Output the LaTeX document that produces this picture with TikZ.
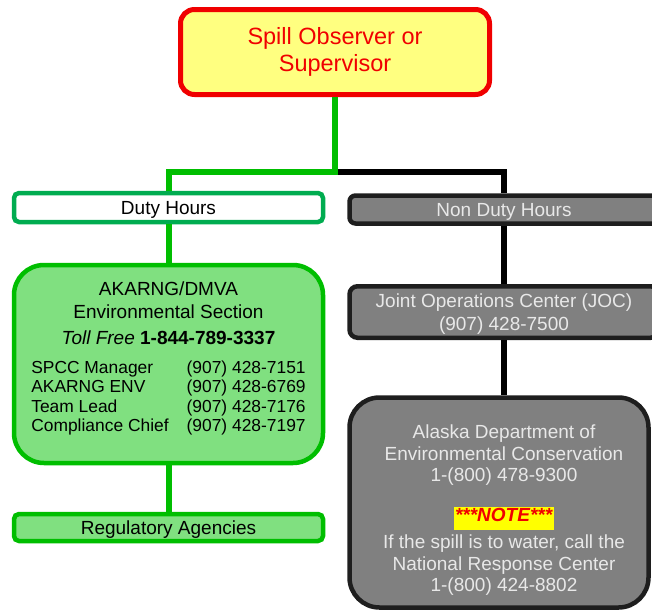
\documentclass[tikz,border=0pt]{standalone}
\usepackage{fontspec}
\setmainfont{Liberation Sans}
\usepackage{tikz}
\usetikzlibrary{positioning,
                arrows.meta}                % arrow tips

\definecolor{spillyellow}{RGB}{255,255,128}
\definecolor{spillred}{RGB}{240,0,0}
\definecolor{linegreen}{RGB}{0,190,0}
\definecolor{dutygreen}{RGB}{0,172,80}
\definecolor{boxgreen}{RGB}{128,224,128}
\definecolor{boxgray}{RGB}{128,128,128}
\definecolor{edgegray}{RGB}{30,30,30}
\definecolor{textgray}{RGB}{232,232,232}
\definecolor{noteyellow}{RGB}{255,255,0}
\setlength{\fboxsep}{1.5pt}

\begin{document}
\begin{tikzpicture}[x=1pt, y=-1pt,
        basebox/.style={rectangle, draw, inner sep=0pt, align=center, minimum width=309pt, text depth=0pt},
        spillbox/.style={basebox, text depth={}, draw=spillred, fill=spillyellow, text=spillred, line width=5pt,
                         rounded corners=14pt, font=\fontsize{23.5}{26.5}\selectfont},
        dutybox/.style={basebox, draw=dutygreen, fill=white, line width=4.5pt, rounded corners=5pt,
                        font=\fontsize{19}{22.5}\selectfont},
        greenbox/.style={basebox, draw=linegreen, fill=boxgreen, line width=4.5pt,
                         font=\fontsize{19}{22.5}\selectfont},
        graybox/.style={basebox, draw=edgegray, fill=boxgray, text=textgray, line width=4.5pt,
                        font=\fontsize{19}{22.5}\selectfont},
        boxtext/.style={anchor=north, inner sep=0pt, align=center, font=\fontsize{19}{21.5}\selectfont},
        gline/.style={draw=linegreen, line width=6pt},
        bline/.style={draw=black, line width=6pt}]
        \useasboundingbox (0,0) rectangle (652,613);
        \clip (0,0) rectangle (652,613);

        \node[spillbox, minimum height=85pt] (spill) at (335,52) {Spill Observer or\\Supervisor};
        \coordinate (fork) at (335,172);

        \node[dutybox, minimum height=29pt] (duty) at (168.5,207.5) {Duty Hours};
        \node[graybox, minimum height=28pt, rounded corners=6pt] (nondt) at (504,209.5) {Non Duty Hours};

        % duty hours side
        \node[greenbox, minimum height=198pt, rounded corners=30pt] (akarng) at (168.5,364) {};
        \node[boxtext, font=\fontsize{19}{22.5}\selectfont] (akarngtext) at (168.5,282) {AKARNG/DMVA\\Environmental Section\\[3.5pt]
            \textit{Toll Free} \textbf{1-844-789-3337}\\[6.5pt]
            {\fontsize{17.4}{19.5}\selectfont\begin{tabular}[t]{@{}l@{\hspace{18pt}}l@{}}
                SPCC Manager & (907) 428-7151\\
                AKARNG ENV & (907) 428-6769\\
                Team Lead & (907) 428-7176\\
                Compliance Chief & (907) 428-7197
            \end{tabular}}};
        \node[greenbox, minimum height=27pt, rounded corners=5pt] (reg) at (168.5,527.5) {Regulatory Agencies};

        % non duty hours side
        \node[graybox, minimum height=51.5pt, rounded corners=8pt] (joc) at (504,312) {Joint Operations Center (JOC)\\(907) 428-7500};
        \node[graybox, minimum width=299pt, minimum height=210pt, rounded corners=30pt] (adec) at (499,502.5) {};
        \node[boxtext, text=textgray] (adectext) at (504,425) {Alaska Department of\\Environmental Conservation\\1-(800) 478-9300\\[18.5pt]
            \colorbox{noteyellow}{\rule[-6.5pt]{0pt}{14.5pt}\textcolor{spillred}{\textbf{\textit{***NOTE***}}}}\\[4pt]
            If the spill is to water, call the\\National Response Center\\1-(800) 424-8802};

        \draw[bline] (fork) -| (nondt.north);
        \draw[gline] (spill.south) |- (fork) -| (duty.north);
        \draw[gline] (duty.south) -- (akarng.north);
        \draw[gline] (akarng.south) -- (reg.north);
        \draw[bline] (nondt.south) -- (joc.north);
        \draw[bline] (joc.south) -- (joc.south |- adec.north);
\end{tikzpicture}
\end{document}
